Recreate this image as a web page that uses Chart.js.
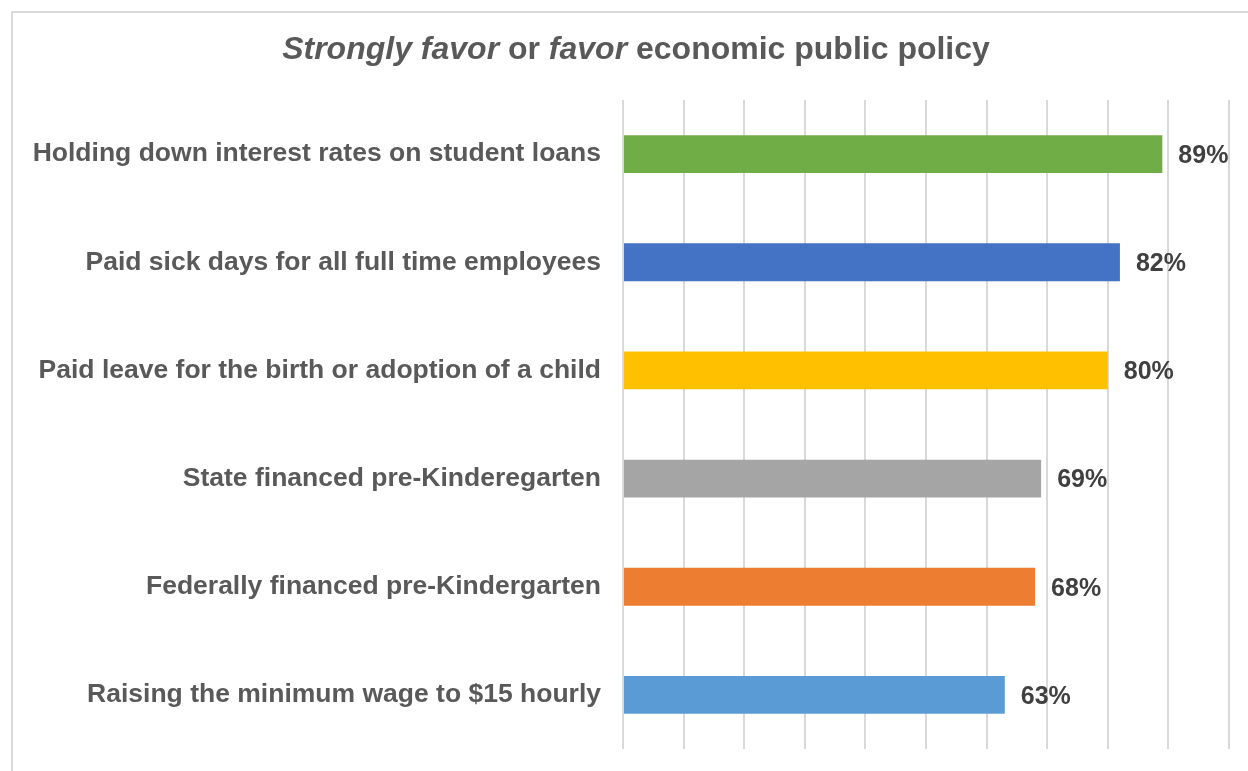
<!DOCTYPE html>
<html>
<head>
<meta charset="utf-8">
<script src="https://cdn.jsdelivr.net/npm/chart.js@4/dist/chart.umd.min.js"></script>
<style>
    html, body { margin: 0; padding: 0; background: #fff; overflow: hidden; }
    #frame {
        position: absolute; left: 11px; top: 11px;
        width: 1260px; height: 800px;
        border: 2px solid #d9d9d9;
    }
    #wrap { position: absolute; left: 0; top: 0; width: 1248px; height: 771px; }
</style>
</head>
<body>
<div id="frame"></div>
<div id="wrap"><canvas id="policyChart" width="1248" height="771"></canvas></div>
<script>
    const categories = [
        'Holding down interest rates on student loans',
        'Paid sick days for all full time employees',
        'Paid leave for the birth or adoption of a child',
        'State financed pre-Kinderegarten',
        'Federally financed pre-Kindergarten',
        'Raising the minimum wage to $15 hourly'
    ];
    const favorPct = [89, 82, 80, 69, 68, 63];
    const barColors = ['#70AD47', '#4472C4', '#FFC000', '#A5A5A5', '#ED7D31', '#5B9BD5'];
    const titleParts = [
        { text: 'Strongly favor', italic: true },
        { text: ' or ', italic: false },
        { text: 'favor', italic: true },
        { text: ' economic public policy', italic: false }
    ];

    const FONT = '"Liberation Sans", Arial, sans-serif';

    // mixed italic / upright title
    const titlePlugin = {
        id: 'mixedTitle',
        afterDraw: function (chart) {
            const ctx = chart.ctx;
            ctx.save();
            ctx.fillStyle = '#595959';
            ctx.textBaseline = 'middle';
            let total = 0;
            titleParts.forEach(function (p) {
                ctx.font = (p.italic ? 'italic ' : '') + 'bold 32px ' + FONT;
                total += ctx.measureText(p.text).width;
            });
            let x = 636 - total / 2;
            titleParts.forEach(function (p) {
                ctx.font = (p.italic ? 'italic ' : '') + 'bold 32px ' + FONT;
                ctx.fillText(p.text, x, 50);
                x += ctx.measureText(p.text).width;
            });
            ctx.restore();
        }
    };

    // value labels at the end of each bar
    const valueLabels = {
        id: 'valueLabels',
        afterDatasetsDraw: function (chart) {
            const ctx = chart.ctx;
            const meta = chart.getDatasetMeta(0);
            ctx.save();
            ctx.font = 'bold 25px ' + FONT;
            ctx.fillStyle = '#404040';
            ctx.textBaseline = 'middle';
            meta.data.forEach(function (bar, i) {
                ctx.fillText(favorPct[i] + '%', bar.x + 16, bar.y + 2);
            });
            ctx.restore();
        }
    };

    new Chart(document.getElementById('policyChart'), {
        type: 'bar',
        data: {
            labels: categories,
            datasets: [{
                data: favorPct,
                backgroundColor: barColors,
                borderWidth: 0,
                barPercentage: 0.35,
                categoryPercentage: 1
            }]
        },
        options: {
            indexAxis: 'y',
            responsive: false,
            animation: false,
            layout: { padding: { left: 0, right: 19, top: 100, bottom: 22 } },
            plugins: {
                legend: { display: false },
                title: { display: false },
                tooltip: { enabled: false }
            },
            scales: {
                x: {
                    min: 0,
                    max: 100,
                    ticks: { display: false, stepSize: 10 },
                    grid: { color: '#d9d9d9', lineWidth: 2, drawTicks: false },
                    border: { display: false },
                    afterFit: function (scale) { scale.height = 0; }
                },
                y: {
                    ticks: {
                        color: '#595959',
                        font: { family: FONT, size: 26.5, weight: 'bold' },
                        padding: 22
                    },
                    grid: { display: false, drawTicks: false },
                    border: { display: false },
                    afterFit: function (scale) {
                        scale.width = 623;
                        scale.paddingTop = 0;
                        scale.paddingBottom = 0;
                    }
                }
            }
        },
        plugins: [titlePlugin, valueLabels]
    });
</script>
</body>
</html>
